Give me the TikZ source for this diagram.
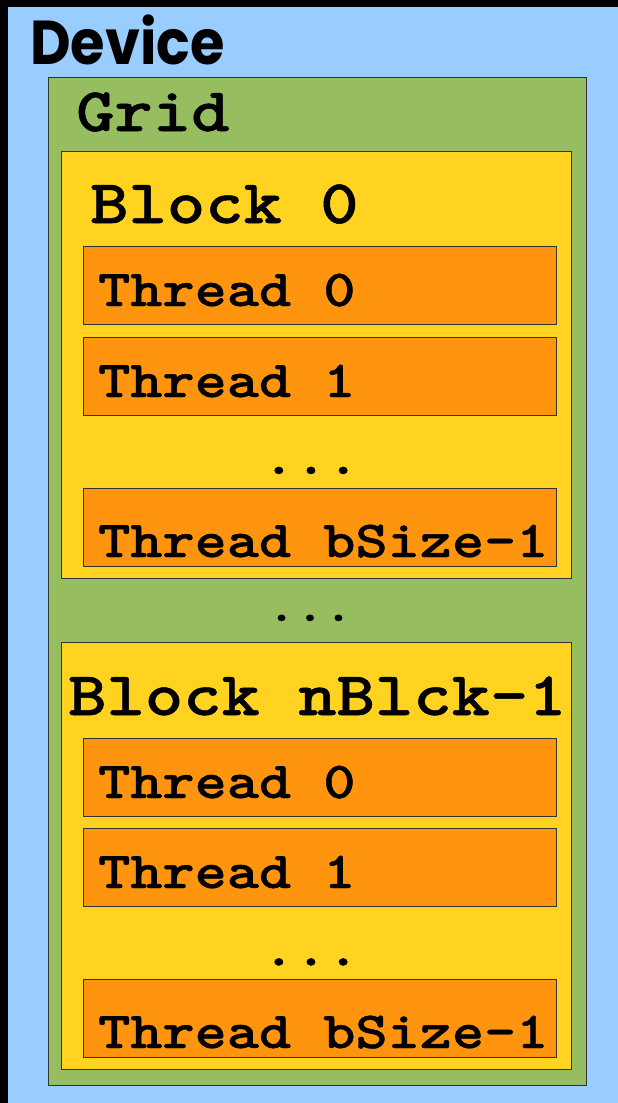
\documentclass[tikz,border=0pt]{standalone}
\usepackage{fontspec}
\newfontfamily\codefont{lmmonolt10-bold.otf}[FakeStretch=1.178, FakeBold=0.8]
\newfontfamily\devicefont{Poppins}[FakeStretch=0.9]
\usepackage{xcolor}
\usetikzlibrary{positioning}
\definecolor{devblue}{HTML}{99CCFF}
\definecolor{gridgreen}{HTML}{96BD5F}
\definecolor{blockgold}{HTML}{FFD320}
\definecolor{threadorange}{HTML}{FF950E}
\definecolor{edgegray}{HTML}{333333}
\tikzset{
  box/.style={draw=edgegray, line width=1pt, anchor=north west, inner sep=0pt},
  gridbox/.style={box, fill=gridgreen, minimum width=538pt, minimum height=1008pt},
  blockbox/.style={box, fill=blockgold, minimum width=510pt, minimum height=427pt},
  threadbox/.style={box, fill=threadorange, minimum width=473pt, minimum height=78pt},
  biglabel/.style={font=\codefont\fontsize{62}{62}\selectfont,
                   anchor=base west, inner sep=0pt},
  threadlabel/.style={font=\codefont\fontsize{52}{52}\selectfont,
                      anchor=base west, inner sep=0pt},
  dots/.style={threadlabel, anchor=base},
  devicelabel/.style={font=\devicefont\bfseries\fontsize{62}{62}\selectfont,
                      anchor=base west, inner sep=0pt},
}
\begin{document}
\begin{tikzpicture}[x=1pt, y=-1pt]

% --- Frame and device background ---
\useasboundingbox (0,0) rectangle (618,1103);
\fill[black] (0,0) rectangle (618,1103);
\fill[devblue] (8,7) rectangle (618,1103);
\node[devicelabel] (devlbl) at (30,64) {Device};

% --- Column positions ---
\def\xgrid{48}
\def\xblock{61}
\def\xthread{83}

% --- Grid ---
\node[gridbox] (grid) at (\xgrid,77) {};
\node[biglabel] (gridlbl) at ([xshift=28pt, yshift=-54pt]grid.north west) {Grid};

% --- Block 0 ---
\node[blockbox] (b0) at (\xblock,151) {};
\node[biglabel] (b0lbl) at ([xshift=29pt, yshift=-72pt]b0.north west) {Block 0};
\node[threadbox] (b0t0) at (\xthread,246) {};
\node[threadbox] (b0t1) at (\xthread,337) {};
\node[threadbox] (b0tn) at (\xthread,488) {};
\node[threadlabel] (b0t0lbl) at ([xshift=15pt, yshift=-60pt]b0t0.north west) {Thread 0};
\node[threadlabel] (b0t1lbl) at ([xshift=15pt, yshift=-60pt]b0t1.north west) {Thread 1};
\node[threadlabel] (b0tnlbl) at ([xshift=15pt, yshift=-69pt]b0tn.north west) {Thread bSize-1};
\node[dots] (b0dots) at (311,474) {...};

% --- Dots between blocks ---
\node[dots, font=\codefont\fontsize{46}{46}\selectfont] (griddots) at (310,621) {...};

% --- Block nBlck-1 ---
\node[blockbox] (b1) at (\xblock,642) {};
\node[biglabel] (b1lbl) at ([xshift=7pt, yshift=-73pt]b1.north west) {Block nBlck-1};
\node[threadbox] (b1t0) at (\xthread,738) {};
\node[threadbox] (b1t1) at (\xthread,828) {};
\node[threadbox] (b1tn) at (\xthread,979) {};
\node[threadlabel] (b1t0lbl) at ([xshift=15pt, yshift=-60pt]b1t0.north west) {Thread 0};
\node[threadlabel] (b1t1lbl) at ([xshift=15pt, yshift=-60pt]b1t1.north west) {Thread 1};
\node[threadlabel] (b1tnlbl) at ([xshift=15pt, yshift=-69pt]b1tn.north west) {Thread bSize-1};
\node[dots] (b1dots) at (311,965.5) {...};

\end{tikzpicture}
\end{document}
